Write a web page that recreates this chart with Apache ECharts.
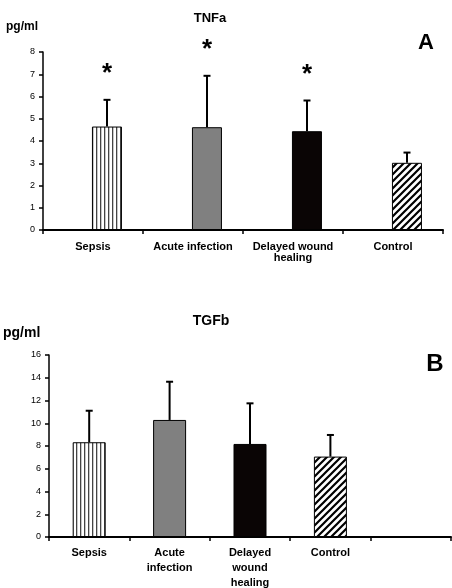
<!DOCTYPE html>
<html>
<head>
<meta charset="utf-8">
<script src="https://cdn.jsdelivr.net/npm/echarts@6/dist/echarts.min.js"></script>
<style>
html,body{margin:0;padding:0;background:#fff;}
#chart{width:452px;height:588px;}
</style>
</head>
<body>
<div id="chart"></div>
<script>
// ---- data ----
const categoriesA = ['Sepsis', 'Acute infection', 'Delayed wound\nhealing', 'Control'];
const meanA = [4.65, 4.62, 4.44, 3.02];
const errA = [1.20, 2.31, 1.38, 0.46];
const starA = [1, 1, 1, 0];

const categoriesB = ['Sepsis', 'Acute\ninfection', 'Delayed\nwound\nhealing', 'Control', ''];
const meanB = [8.33, 10.29, 8.18, 7.07];
const errB = [2.77, 3.36, 3.57, 1.9];

const ticksA = {min: 0, max: 8, interval: 1};
const ticksB = {min: 0, max: 16, interval: 2};

// ---- patterns ----
function stripePattern() {
  const c = document.createElement('canvas');
  c.width = 4; c.height = 4;
  const g = c.getContext('2d');
  g.fillStyle = '#fff'; g.fillRect(0, 0, 4, 4);
  g.fillStyle = '#444'; g.fillRect(0, 0, 1.3, 4);
  return {image: c, repeat: 'repeat'};
}
function diagPattern() {
  const s = 7;
  const c = document.createElement('canvas');
  c.width = s; c.height = s;
  const g = c.getContext('2d');
  g.fillStyle = '#fff'; g.fillRect(0, 0, s, s);
  g.strokeStyle = '#000'; g.lineWidth = 2.2;
  g.beginPath();
  g.moveTo(-1, s + 1); g.lineTo(s + 1, -1);
  g.moveTo(-1, 1); g.lineTo(1, -1);
  g.moveTo(s - 1, s + 1); g.lineTo(s + 1, s - 1);
  g.stroke();
  return {image: c, repeat: 'repeat'};
}
const fills = [stripePattern(), '#808080', '#0a0505', diagPattern()];

const FONT = 'Liberation Sans, Arial, sans-serif';
const offsetA = 14;

function errItems(mean, err) {
  return mean.map((m, i) => [i, m, err[i]]);
}
function errRender(offset) {
  return function (params, api) {
    const i = api.value(0), m = api.value(1), e = api.value(2);
    const p0 = api.coord([i, m]);
    const p1 = api.coord([i, m + e]);
    const x = p0[0] + offset;
    return {
      type: 'group',
      children: [
        {type: 'line', shape: {x1: x, y1: p0[1], x2: x, y2: p1[1]}, style: {stroke: '#000', lineWidth: 2}},
        {type: 'line', shape: {x1: x - 3.5, y1: p1[1], x2: x + 3.5, y2: p1[1]}, style: {stroke: '#000', lineWidth: 2}}
      ]
    };
  };
}

const barData = (mean) => mean.map((v, i) => ({value: v, itemStyle: {color: fills[i]}}));

const axisCommon = {
  axisLine: {show: true, lineStyle: {color: '#000', width: 1.5}},
  axisTick: {show: true, lineStyle: {color: '#000', width: 1.5}, length: 4},
  splitLine: {show: false}
};

const option = {
  backgroundColor: '#fff',
  animation: false,
  graphic: [
    {type: 'text', x: 210, y: 18, style: {text: 'TNFa', font: 'bold 13px ' + FONT, fill: '#000', align: 'center', verticalAlign: 'middle'}},
    {type: 'text', x: 6, y: 27, style: {text: 'pg/ml', font: 'bold 12px ' + FONT, fill: '#000', align: 'left', verticalAlign: 'middle'}},
    {type: 'text', x: 426, y: 43, style: {text: 'A', font: 'bold 22px ' + FONT, fill: '#000', align: 'center', verticalAlign: 'middle'}},
    {type: 'text', x: 211, y: 321, style: {text: 'TGFb', font: 'bold 14px ' + FONT, fill: '#000', align: 'center', verticalAlign: 'middle'}},
    {type: 'text', x: 3, y: 333, style: {text: 'pg/ml', font: 'bold 14px ' + FONT, fill: '#000', align: 'left', verticalAlign: 'middle'}},
    {type: 'text', x: 435, y: 364, style: {text: 'B', font: 'bold 24px ' + FONT, fill: '#000', align: 'center', verticalAlign: 'middle'}}
  ],
  grid: [
    {left: 43, right: 9, top: 52, bottom: 358, containLabel: false, outerBoundsMode: 'none'},
    {left: 49, right: 1, top: 355, bottom: 51, containLabel: false, outerBoundsMode: 'none'}
  ],
  xAxis: [
    Object.assign({}, axisCommon, {
      type: 'category', gridIndex: 0, data: categoriesA,
      axisLine: {show: true, lineStyle: {color: '#000', width: 2}},
      axisLabel: {color: '#000', fontFamily: FONT, fontWeight: 'bold', fontSize: 11, margin: 11, lineHeight: 11, interval: 0}
    }),
    Object.assign({}, axisCommon, {
      type: 'category', gridIndex: 1, data: categoriesB,
      axisLine: {show: true, lineStyle: {color: '#000', width: 2}},
      axisLabel: {color: '#000', fontFamily: FONT, fontWeight: 'bold', fontSize: 11, margin: 8, lineHeight: 15, interval: 0}
    })
  ],
  yAxis: [
    Object.assign({}, axisCommon, {
      type: 'value', gridIndex: 0, min: ticksA.min, max: ticksA.max, interval: ticksA.interval,
      axisLabel: {color: '#000', fontFamily: FONT, fontSize: 9, margin: 8}
    }),
    Object.assign({}, axisCommon, {
      type: 'value', gridIndex: 1, min: ticksB.min, max: ticksB.max, interval: ticksB.interval,
      axisLabel: {color: '#000', fontFamily: FONT, fontSize: 9, margin: 8}
    })
  ],
  series: [
    // spacer series to shift bars right within each category (as in the original)
    {type: 'bar', xAxisIndex: 0, yAxisIndex: 0, data: categoriesA.map(() => null), barWidth: 30, barGap: '-7%', silent: true},
    {type: 'bar', xAxisIndex: 0, yAxisIndex: 0, data: barData(meanA), barWidth: 30,
      itemStyle: {borderColor: '#000', borderWidth: 1}},
    {type: 'custom', xAxisIndex: 0, yAxisIndex: 0, data: errItems(meanA, errA), renderItem: errRender(offsetA), z: 5},
    {type: 'custom', xAxisIndex: 0, yAxisIndex: 0, z: 5,
      data: meanA.map((m, i) => [i, m + errA[i], starA[i]]),
      renderItem: function (params, api) {
        if (!api.value(2)) return null;
        const p = api.coord([api.value(0), api.value(1)]);
        return {type: 'text', style: {text: '*', x: p[0] + offsetA, y: p[1] - 26, font: 'bold 26px ' + FONT, fill: '#000', align: 'center', verticalAlign: 'middle'}};
      }
    },
    {type: 'bar', xAxisIndex: 1, yAxisIndex: 1, data: barData(meanB), barWidth: 33,
      itemStyle: {borderColor: '#000', borderWidth: 1}},
    {type: 'custom', xAxisIndex: 1, yAxisIndex: 1, data: errItems(meanB, errB), renderItem: errRender(0), z: 5}
  ]
};

const chart = echarts.init(document.getElementById('chart'), null, {renderer: 'canvas'});
chart.setOption(option);
</script>
</body>
</html>
